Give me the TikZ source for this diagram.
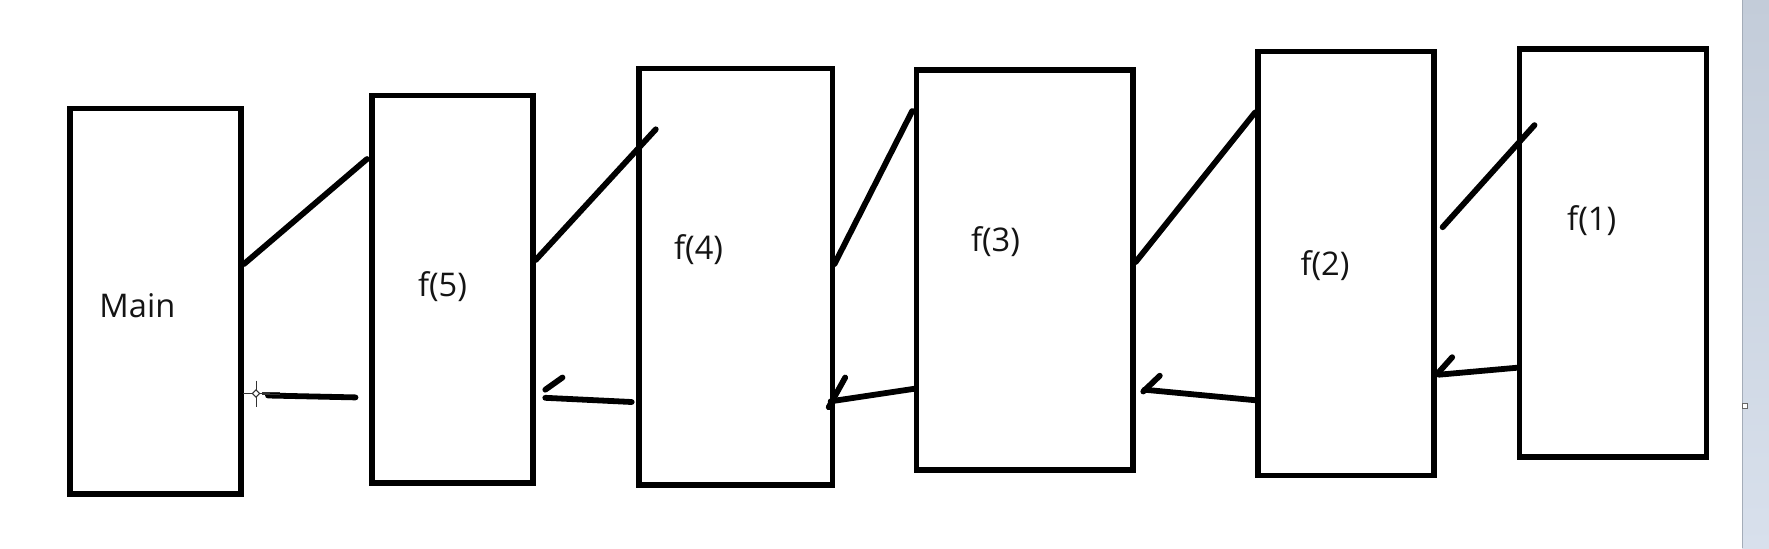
\documentclass[tikz,border=0pt]{standalone}
\usepackage{fontspec}
\setmainfont{Open Sans}
\begin{document}
\begin{tikzpicture}[x=0.5pt,y=-0.5pt,
  box/.style={draw=black, line width=2.75pt, rectangle, inner sep=0pt, outer sep=0pt},
  conn/.style={draw=black, line width=2.9pt, line cap=round},
  lbl/.style={font=\fontsize{16.3pt}{18pt}\selectfont, anchor=base, inner sep=0pt, text=black!92},
  cursor/.style={draw=black!80, line width=0.5pt}]
\definecolor{bartop}{HTML}{C3CCD9}
\definecolor{barbot}{HTML}{D8E0EC}
\definecolor{baredge}{HTML}{A4ACB8}
\useasboundingbox (0,0) rectangle (1769,548);
\fill[white] (0,0) rectangle (1769,548);
% window side bar
\shade[top color=bartop, bottom color=barbot] (1742,0) rectangle (1769,548);
\draw[baredge, line width=0.6pt] (1742.3,0) -- (1742.3,548);
\node[draw=black!60, fill=white, line width=0.5pt, minimum size=2.5pt, inner sep=0pt] (handle) at (1745,406) {};

% boxes
\node[box, minimum width=85.5pt,  minimum height=192.75pt] (main) at (155.5,301.25) {};
\node[box, minimum width=80.5pt,  minimum height=193.8pt]  (f5)   at (452.5,289.2) {};
\node[box, minimum width=96.75pt, minimum height=208.25pt] (f4)   at (735.75,276.75) {};
\node[box, minimum width=108.25pt,minimum height=200pt]    (f3)   at (1024.75,270) {};
\node[box, minimum width=88pt,    minimum height=211.85pt] (f2)   at (1346,263.55) {};
\node[box, minimum width=93.65pt, minimum height=204pt]    (f1)   at (1613,253) {};

% labels
\node[lbl] (tmain) at (137.4,317.3) {Main};
\node[lbl] (t5) at (442.5,296.7) {f(5)};
\node[lbl] (t4) at (698.6,259.5) {f(4)};
\node[lbl] (t3) at (995.5,251) {f(3)};
\node[lbl] (t2) at (1325,275.5) {f(2)};
\node[lbl] (t1) at (1591.7,230) {f(1)};

% call connectors
\coordinate (a1) at (244,264);    \coordinate (b1) at (367,159);
\coordinate (a2) at (535.7,260);  \coordinate (b2) at (655.8,129.3);
\coordinate (a3) at (834.5,264);  \coordinate (b3) at (912.2,111);
\coordinate (a4) at (1135.7,262); \coordinate (b4) at (1255,112.5);
\coordinate (a5) at (1442.6,227.2); \coordinate (b5) at (1534.5,125.1);
\draw[conn] (a1) -- (b1);
\draw[conn] (a2) -- (b2);
\draw[conn] (a3) -- (b3);
\draw[conn] (a4) -- (b4);
\draw[conn] (a5) -- (b5);

% return connectors
\coordinate (r1s) at (355.5,397.4); \coordinate (r1e) at (268,395.5);
\coordinate (r2s) at (631.7,402);   \coordinate (r2e) at (545.3,397.8);
\coordinate (r3s) at (914.8,388.7); \coordinate (r3e) at (830.7,401.3);
\coordinate (r4s) at (1255,400.2);  \coordinate (r4e) at (1144.5,389.7);
\coordinate (r5s) at (1517.3,367.7); \coordinate (r5e) at (1438.8,374.7);
\draw[conn] (r1s) -- (r1e);
\draw[conn] (r2s) -- (r2e);
\draw[conn] (r3s) -- (r3e);
\draw[conn] (r4s) -- (r4e);
\draw[conn] (r5s) -- (r5e);
% half arrow heads
\coordinate (h2a) at (545.3,389.7); \coordinate (h2b) at (562.5,377.5);
\coordinate (h3a) at (828.7,407.2); \coordinate (h3b) at (845.2,377.5);
\coordinate (h4a) at (1143.3,391.5); \coordinate (h4b) at (1159.8,375.7);
\coordinate (h5a) at (1438.8,372.2); \coordinate (h5b) at (1452.2,357.2);
\draw[conn] (h2a) -- (h2b);
\draw[conn] (h3a) -- (h3b);
\draw[conn] (h4a) -- (h4b);
\draw[conn] (h5a) -- (h5b);

% mouse cursor
\coordinate (cur) at (256,393.5);
\fill[white] ([xshift=-3pt]cur) rectangle ([xshift=6pt,yshift=1.2pt]cur);
\draw[cursor] ([yshift=6.5pt]cur) -- ([yshift=-6.5pt]cur);
\draw[cursor] ([xshift=-6.5pt]cur) -- ([xshift=7pt]cur);
\draw[cursor, fill=white] ([xshift=-1.8pt]cur) -- ([yshift=1.8pt]cur) -- ([xshift=1.8pt]cur) -- ([yshift=-1.8pt]cur) -- cycle;
\draw[cursor] ([xshift=3pt,yshift=0.7pt]cur) -- ([xshift=12pt,yshift=0.7pt]cur);
\draw[cursor] ([xshift=3pt,yshift=-0.7pt]cur) -- ([xshift=12pt,yshift=-0.7pt]cur);
\end{tikzpicture}
\end{document}
